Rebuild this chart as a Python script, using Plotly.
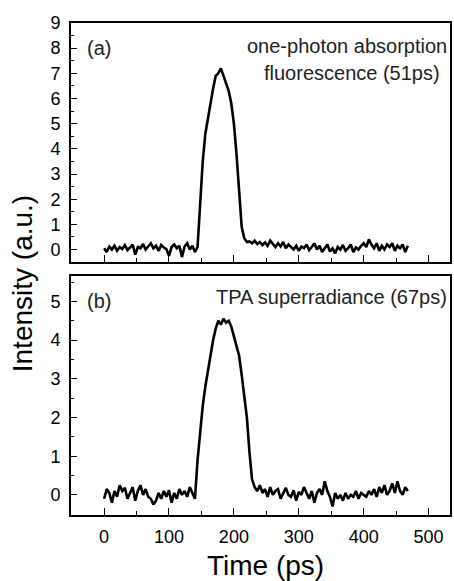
"""
Two stacked time traces: one-photon fluorescence (a) and TPA superradiance (b).
"""

import plotly.graph_objects as go

FONT = "Liberation Sans, Arial, sans-serif"
TICK_FONT_SIZE = 18
TITLE_FONT_SIZE = 28
NOTE_FONT_SIZE = 20

TIME_PS = [
    0, 4, 8, 12, 16, 20, 24, 28, 32, 36, 40, 44, 48, 52, 56, 60, 64, 68, 72, 76,
    80, 84, 88, 92, 96, 100, 104, 108, 112, 116, 120, 124, 128, 132, 136, 140,
    144, 148, 152, 156, 160, 164, 168, 172, 176, 180, 184, 188, 192, 196, 200,
    204, 208, 212, 216, 220, 224, 228, 232, 236, 240, 244, 248, 252, 256, 260,
    264, 268, 272, 276, 280, 284, 288, 292, 296, 300, 304, 308, 312, 316, 320,
    324, 328, 332, 336, 340, 344, 348, 352, 356, 360, 364, 368, 372, 376, 380,
    384, 388, 392, 396, 400, 404, 408, 412, 416, 420, 424, 428, 432, 436, 440,
    444, 448, 452, 456, 460, 464, 468,
]

# (a) one-photon absorption fluorescence
INTENSITY_A = [
    0.05, -0.10, 0.12, 0.00, 0.15, -0.05, 0.10, 0.02, 0.18, -0.02, 0.08, 0.20,
    -0.20, 0.10, 0.05, 0.22, 0.00, 0.12, 0.25, 0.05, 0.15, -0.05, 0.18, 0.08,
    0.02, -0.25, 0.10, 0.20, 0.05, 0.15, -0.30, 0.12, 0.25, 0.00, 0.15, -0.10,
    0.10, 1.80, 3.50, 4.60, 5.30, 5.80, 6.40, 6.90, 7.00, 7.20, 6.90, 6.60,
    6.30, 5.80, 5.00, 3.80, 2.30, 0.90, 0.45, 0.30, 0.32, 0.25, 0.35, 0.22,
    0.30, 0.18, 0.28, 0.15, 0.35, 0.20, 0.10, 0.25, 0.12, 0.30, 0.05, 0.20,
    0.10, 0.00, 0.15, -0.05, 0.12, 0.05, 0.20, -0.02, 0.10, 0.25, 0.00, 0.15,
    -0.10, 0.08, 0.20, -0.08, 0.05, -0.15, 0.10, 0.00, 0.18, -0.05, 0.05, 0.20,
    -0.10, 0.08, 0.00, 0.15, 0.25, 0.10, 0.40, 0.20, 0.05, 0.25, -0.05, 0.15,
    0.00, 0.20, 0.10, 0.25, -0.05, 0.15, 0.05, 0.20, -0.10, 0.15,
]

# (b) TPA superradiance
INTENSITY_B = [
    -0.10, 0.15, 0.05, -0.20, 0.10, -0.05, 0.25, 0.10, 0.18, -0.10, 0.05, 0.20,
    -0.15, 0.10, 0.25, 0.00, 0.15, -0.05, -0.10, -0.25, -0.15, 0.05, -0.10, 0.10,
    -0.05, 0.12, -0.20, 0.05, -0.10, 0.15, 0.00, 0.10, -0.05, 0.20, 0.05, -0.10,
    0.90, 1.70, 2.30, 2.80, 3.20, 3.70, 4.00, 4.30, 4.50, 4.40, 4.55, 4.45,
    4.50, 4.35, 4.10, 3.85, 3.60, 3.10, 2.50, 2.00, 1.10, 0.40, 0.20, 0.10,
    0.25, 0.05, 0.15, -0.05, 0.20, 0.00, 0.10, 0.15, -0.10, 0.05, 0.18, 0.00,
    -0.05, 0.12, -0.15, 0.08, 0.00, 0.20, 0.05, -0.10, 0.10, -0.20, 0.05, 0.15,
    0.00, 0.35, 0.10, -0.05, -0.30, 0.05, -0.10, 0.00, -0.15, 0.05, -0.10, 0.00,
    -0.05, 0.10, -0.10, 0.05, 0.00, -0.05, 0.10, 0.00, 0.15, -0.05, 0.20, 0.05,
    0.25, 0.00, 0.10, 0.30, 0.05, 0.35, 0.10, 0.00, 0.20, 0.10,
]

assert len(TIME_PS) == len(INTENSITY_A) == len(INTENSITY_B)

X_TICKS = [0, 100, 200, 300, 400, 500]
Y_TICKS_A = [0, 1, 2, 3, 4, 5, 6, 7, 8, 9]
Y_TICKS_B = [0, 1, 2, 3, 4, 5]

fig = go.Figure()
fig.add_trace(go.Scatter(x=TIME_PS, y=INTENSITY_A, mode='lines',
                         line=dict(color='black', width=2.6),
                         xaxis='x2', yaxis='y2', showlegend=False))
fig.add_trace(go.Scatter(x=TIME_PS, y=INTENSITY_B, mode='lines',
                         line=dict(color='black', width=2.6),
                         xaxis='x', yaxis='y', showlegend=False))

axis_common = dict(showline=True, mirror=True, linecolor='black', linewidth=1.6,
                   ticks='inside', tickcolor='black', tickwidth=1.3,
                   showgrid=False, zeroline=False,
                   tickfont=dict(family=FONT, size=TICK_FONT_SIZE, color='black'))

x_common = dict(axis_common, range=[-51, 533], tickvals=X_TICKS, ticklen=7,
                minor=dict(ticks='inside', ticklen=4, dtick=50, tick0=0,
                           tickcolor='black', tickwidth=1.3))

fig.update_layout(
    width=454, height=581,
    margin=dict(l=71, r=2, t=23, b=66),
    paper_bgcolor='white', plot_bgcolor='white',
    xaxis=dict(x_common, anchor='y', domain=[0, 1], ticklabelstandoff=5),
    xaxis2=dict(x_common, anchor='y2', matches='x', showticklabels=False),
    yaxis=dict(axis_common, domain=[0, 0.486], range=[-0.52, 5.66],
               tickvals=Y_TICKS_B, ticklen=6, ticklabelstandoff=5,
               minor=dict(ticks='inside', ticklen=3, dtick=0.5, tick0=0,
                          tickcolor='black', tickwidth=1.3)),
    yaxis2=dict(axis_common, domain=[0.514, 1], range=[-0.5, 9.0],
                tickvals=Y_TICKS_A, ticklen=6, ticklabelstandoff=5,
                minor=dict(ticks='inside', ticklen=3, dtick=0.5, tick0=0,
                           tickcolor='black', tickwidth=1.3)),
)

note_font = dict(family=FONT, size=NOTE_FONT_SIZE, color='#222')
annotations = [
    dict(text='(a)', x=-29, y=8.0, xref='x2', yref='y2',
         xanchor='left', yanchor='middle', showarrow=False, font=note_font),
    dict(text='one-photon absorption', x=531, y=8.1, xref='x2', yref='y2',
         xanchor='right', yanchor='middle', showarrow=False, font=note_font),
    dict(text='fluorescence (51ps)', x=521, y=7.0, xref='x2', yref='y2',
         xanchor='right', yanchor='middle', showarrow=False, font=note_font),
    dict(text='(b)', x=-29, y=5.0, xref='x', yref='y',
         xanchor='left', yanchor='middle', showarrow=False, font=note_font),
    dict(text='TPA superradiance (67ps)', x=531, y=5.12, xref='x', yref='y',
         xanchor='right', yanchor='middle', showarrow=False, font=note_font),
    dict(text='Intensity (a.u.)', x=-0.128, y=0.47, xref='paper', yref='paper',
         textangle=-90, xanchor='center', yanchor='middle', showarrow=False,
         font=dict(family=FONT, size=TITLE_FONT_SIZE, color='black')),
    dict(text='Time (ps)', x=0.513, y=-0.102, xref='paper', yref='paper',
         xanchor='center', yanchor='middle', showarrow=False,
         font=dict(family=FONT, size=TITLE_FONT_SIZE, color='black')),
]
fig.update_layout(annotations=annotations)

# drop the default page margin so the figure sits at the window's top-left
fig.write_html("out.html", config={'displayModeBar': False},
               post_script="document.body.style.margin='0';"
                           "document.body.style.overflow='hidden';")
